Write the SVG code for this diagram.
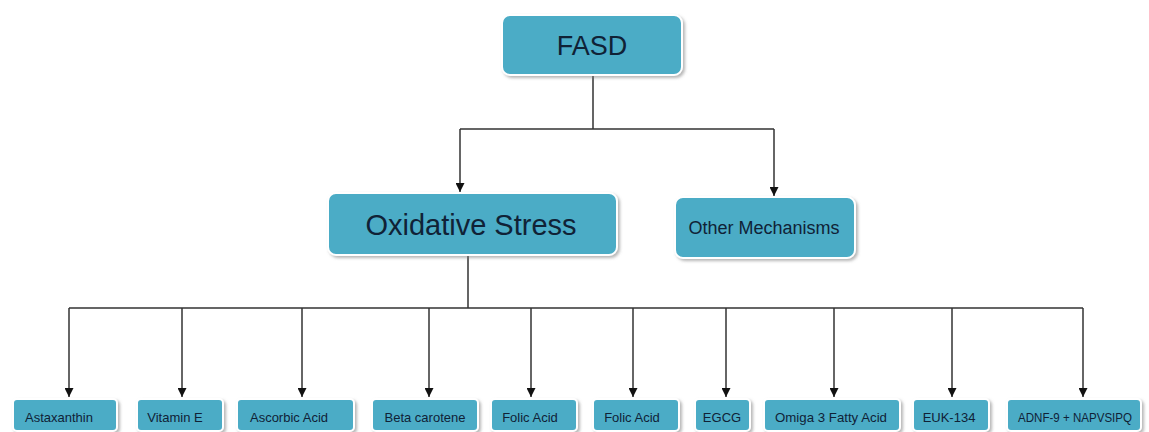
<svg xmlns="http://www.w3.org/2000/svg" width="1149" height="432" viewBox="0 0 1149 432">
<style>
.box{fill:#4bacc6;stroke:#ffffff;stroke-width:2;filter:url(#sh)}
.t{font-family:"Liberation Sans",Arial,sans-serif;fill:#102236;text-anchor:middle}
.big{font-size:29px}
.mid{font-size:18px}
.sm{font-size:13px}
.ln{fill:none;stroke:#333;stroke-width:1.5}
.ar{marker-end:url(#ah)}
</style>
<defs>
<filter id="sh" x="-10%" y="-20%" width="125%" height="150%">
<feDropShadow dx="2" dy="2" stdDeviation="1.5" flood-color="#7a7a7a" flood-opacity="0.55"/>
</filter>
<marker id="ah" viewBox="0 0 10 10" refX="10" refY="5" markerWidth="10" markerHeight="9" markerUnits="userSpaceOnUse" orient="auto">
<path d="M0,0 L10,5 L0,10 z" fill="#111"/>
</marker>
</defs>
<rect width="1149" height="432" fill="#ffffff"/>
<g id="connectors">
<path class="ln" d="M593,76 V129 M460,129 H774"/>
<path class="ln ar" d="M460,129 V192"/>
<path class="ln ar" d="M774,129 V196"/>
<path class="ln" d="M468,256 V308 M69,308 H1083"/>
<path class="ln ar" d="M69,308 V397"/>
<path class="ln ar" d="M182,308 V397"/>
<path class="ln ar" d="M302,308 V397"/>
<path class="ln ar" d="M429,308 V397"/>
<path class="ln ar" d="M531,308 V397"/>
<path class="ln ar" d="M633,308 V397"/>
<path class="ln ar" d="M726,308 V397"/>
<path class="ln ar" d="M834,308 V397"/>
<path class="ln ar" d="M952,308 V397"/>
<path class="ln ar" d="M1083,308 V397"/>
</g>
<g id="fasd">
<rect class="box" x="502" y="15" width="180" height="60" rx="8"/>
<text class="t" x="592" y="55" style="font-size:27px">FASD</text>
</g>
<g id="oxidative-stress">
<rect class="box" x="328" y="193" width="289" height="62" rx="8"/>
<text class="t big" x="471" y="235">Oxidative Stress</text>
</g>
<g id="other-mechanisms">
<rect class="box" x="675" y="197" width="180" height="61" rx="8"/>
<text class="t mid" x="764" y="234">Other Mechanisms</text>
</g>
<g id="astaxanthin">
<rect class="box" x="13" y="399" width="104" height="32" rx="4"/>
<text class="t sm" x="59" y="422">Astaxanthin</text>
</g>
<g id="vitamin-e">
<rect class="box" x="137" y="399" width="86" height="32" rx="4"/>
<text class="t sm" x="175" y="422">Vitamin E</text>
</g>
<g id="ascorbic-acid">
<rect class="box" x="237" y="399" width="117" height="32" rx="4"/>
<text class="t sm" x="289" y="422">Ascorbic Acid</text>
</g>
<g id="beta-carotene">
<rect class="box" x="372" y="399" width="106" height="32" rx="4"/>
<text class="t sm" x="425" y="422">Beta carotene</text>
</g>
<g id="folic-acid-1">
<rect class="box" x="491" y="399" width="86" height="32" rx="4"/>
<text class="t sm" x="530" y="422">Folic Acid</text>
</g>
<g id="folic-acid-2">
<rect class="box" x="593" y="399" width="86" height="32" rx="4"/>
<text class="t sm" x="632" y="422">Folic Acid</text>
</g>
<g id="egcg">
<rect class="box" x="695" y="399" width="55" height="32" rx="4"/>
<text class="t sm" x="722" y="422">EGCG</text>
</g>
<g id="omiga-3">
<rect class="box" x="764" y="399" width="136" height="32" rx="4"/>
<text class="t sm" x="831" y="422" textLength="112" lengthAdjust="spacingAndGlyphs">Omiga 3 Fatty Acid</text>
</g>
<g id="euk-134">
<rect class="box" x="913" y="399" width="76" height="32" rx="4"/>
<text class="t sm" x="949" y="422">EUK-134</text>
</g>
<g id="adnf-9">
<rect class="box" x="1007" y="399" width="134" height="32" rx="4"/>
<text class="t sm" x="1075" y="422" textLength="114" lengthAdjust="spacingAndGlyphs">ADNF-9 + NAPVSIPQ</text>
</g>
</svg>
